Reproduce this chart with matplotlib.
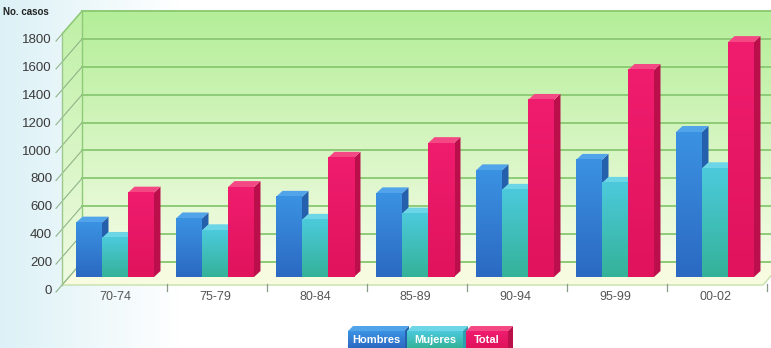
import matplotlib.pyplot as plt
import numpy as np
from matplotlib.patches import Polygon
from matplotlib.colors import LinearSegmentedColormap

plt.rcParams['font.family'] = ['Liberation Sans', 'DejaVu Sans']

# datos
periodos = ['70-74', '75-79', '80-84', '85-89', '90-94', '95-99', '00-02']
hombres = [390, 420, 575, 600, 765, 840, 1040]
mujeres = [280, 335, 410, 455, 625, 675, 780]
total = [605, 645, 855, 960, 1270, 1485, 1685]
series = ['Hombres', 'Mujeres', 'Total']
y_ticks = np.arange(0, 2000, 200)

# colores: (frente arriba, frente abajo, tapa, lateral)
colores = {
    'Hombres': ('#3b92e2', '#2b69c2', '#52a4ea', '#2560ad'),
    'Mujeres': ('#4ccadc', '#34b298', '#6cd6e6', '#2d9fb0'),
    'Total': ('#f01c6e', '#e0135c', '#f44884', '#bb0f4c'),
}

W, H = 771, 348
X0, XS = 62, 100.0   # px del origen, px por categoria
Y0, YS = 63, 0.1394  # px (desde abajo) del cero, px por unidad

fig = plt.figure(figsize=(W / 100, H / 100), dpi=100)
ax = fig.add_axes([0, 0, 1, 1])
ax.axis('off')
xlim = (-X0 / XS, (W - X0) / XS)
ylim = (-Y0 / YS, (H - Y0) / YS)


def px(n):
    return n / XS


def py(n):
    return n / YS


def gradiente(x0, x1, y0, y1, arriba, abajo, z, horizontal=False, clip=None, alpha=1):
    cmap = LinearSegmentedColormap.from_list('g', [abajo, arriba])
    g = np.linspace(0, 1, 128)
    g = g.reshape(1, -1) if horizontal else g.reshape(-1, 1)
    im = ax.imshow(g, cmap=cmap, extent=[x0, x1, y0, y1], origin='lower',
                   aspect='auto', zorder=z, interpolation='bilinear', alpha=alpha)
    if clip is not None:
        im.set_clip_path(clip)
    return im


# fondo: tinte celeste a la izquierda
gradiente(xlim[0], xlim[0] + px(180), ylim[0], ylim[1], '#ffffff', '#dcf1f6', 0, horizontal=True)

ymax = 1800
ddx, ddy = px(20), py(23)       # profundidad de las paredes
n = len(periodos)

# pared del fondo
gradiente(ddx, xlim[1], ddy, ymax + ddy, '#b4ee98', '#f4fce6', 1)
# pared izquierda
pared = Polygon([(0, 0), (ddx, ddy), (ddx, ymax + ddy), (0, ymax)],
                closed=True, transform=ax.transData, facecolor='none', edgecolor='none')
ax.add_patch(pared)
gradiente(0, ddx, 0, ymax + ddy, '#bff0a6', '#f0fbe2', 1, clip=pared)
# piso
ax.add_patch(Polygon([(0, 0), (n + 0.01, 0), (n + 0.01 + ddx, ddy), (ddx, ddy)],
                     closed=True, facecolor='#f7fbdf', edgecolor='#c6e0aa', lw=1, zorder=1.5))

# lineas de la grilla
for v in y_ticks:
    ax.plot([ddx, xlim[1]], [v + ddy, v + ddy], color='#8ecb77', lw=1.4, zorder=2)
    ax.plot([-px(6), ddx], [v - py(7), v + ddy], color='#8fb488', lw=0.8, zorder=2)
    ax.text(-px(10), v - py(6), str(v), ha='right', va='center', fontsize=9.5, color='#3a3a3a')
ax.plot([0, 0], [0, ymax], color='#9bc98c', lw=1, zorder=2)
ax.plot([ddx, ddx], [ddy, ymax + ddy], color='#8ecb77', lw=1, zorder=2)
ax.plot([0, ddx], [ymax, ymax + ddy], color='#8ecb77', lw=1, zorder=2)

ax.text(-px(59), ymax + py(22), 'No. casos', ha='left', va='center',
        fontsize=7, fontweight='bold', color='#222222')

# marcas del eje x
for k in range(1, n + 1):
    ax.plot([k + px(5), k + px(5)], [py(1), -py(6)], color='#8a9a88', lw=0.9, zorder=2)

# barras
bw = 0.26
g0 = px(7)
bdx, bdy = px(7), py(8)     # posicion de las barras en la profundidad
tdx, tdy = px(6.5), py(6)   # grosor de las barras
valores = {'Hombres': hombres, 'Mujeres': mujeres, 'Total': total}
for i, per in enumerate(periodos):
    for j, s in enumerate(series):
        v = valores[s][i]
        arriba, abajo, tapa, lado = colores[s]
        z = 3 + i + j * 0.1
        x0 = i + g0 + j * bw + bdx
        x1 = x0 + bw
        y0, y1 = bdy, bdy + v
        ax.add_patch(Polygon([(x1, y0), (x1, y1), (x1 + tdx, y1 + tdy), (x1 + tdx, y0 + tdy)],
                             closed=True, facecolor=lado, edgecolor='none', zorder=z))
        ax.add_patch(Polygon([(x0, y1), (x1, y1), (x1 + tdx, y1 + tdy), (x0 + tdx, y1 + tdy)],
                             closed=True, facecolor=tapa, edgecolor='none', zorder=z))
        gradiente(x0, x1, y0, y1, arriba, abajo, z + 0.01)
    ax.text(i + g0 + bdx + 1.5 * bw, -py(12), per, ha='center', va='center',
            fontsize=9, color='#555555')

# leyenda
ley_x = [px(348 - X0), px(407 - X0), px(466 - X0)]
ley_w = [px(56), px(56), px(42)]
ley_y0, ley_y1 = ylim[0], -py(46)
for s, lx, lw_ in zip(series, ley_x, ley_w):
    arriba, abajo, tapa, lado = colores[s]
    ax.add_patch(Polygon([(lx, ley_y1), (lx + lw_, ley_y1), (lx + lw_ + px(5), ley_y1 + py(5)),
                          (lx + px(5), ley_y1 + py(5))], closed=True, facecolor=tapa,
                         edgecolor='none', zorder=20))
    ax.add_patch(Polygon([(lx + lw_, ley_y0), (lx + lw_, ley_y1), (lx + lw_ + px(5), ley_y1 + py(5)),
                          (lx + lw_ + px(5), ley_y0)], closed=True, facecolor=lado,
                         edgecolor='none', zorder=20))
    gradiente(lx, lx + lw_, ley_y0, ley_y1, arriba, abajo, 20.5)
    ax.text(lx + lw_ / 2, -py(55), s, ha='center', va='center', fontsize=8,
            fontweight='bold', color='white', zorder=21)

ax.set_xlim(*xlim)
ax.set_ylim(*ylim)

plt.savefig('out.png', dpi=100)
